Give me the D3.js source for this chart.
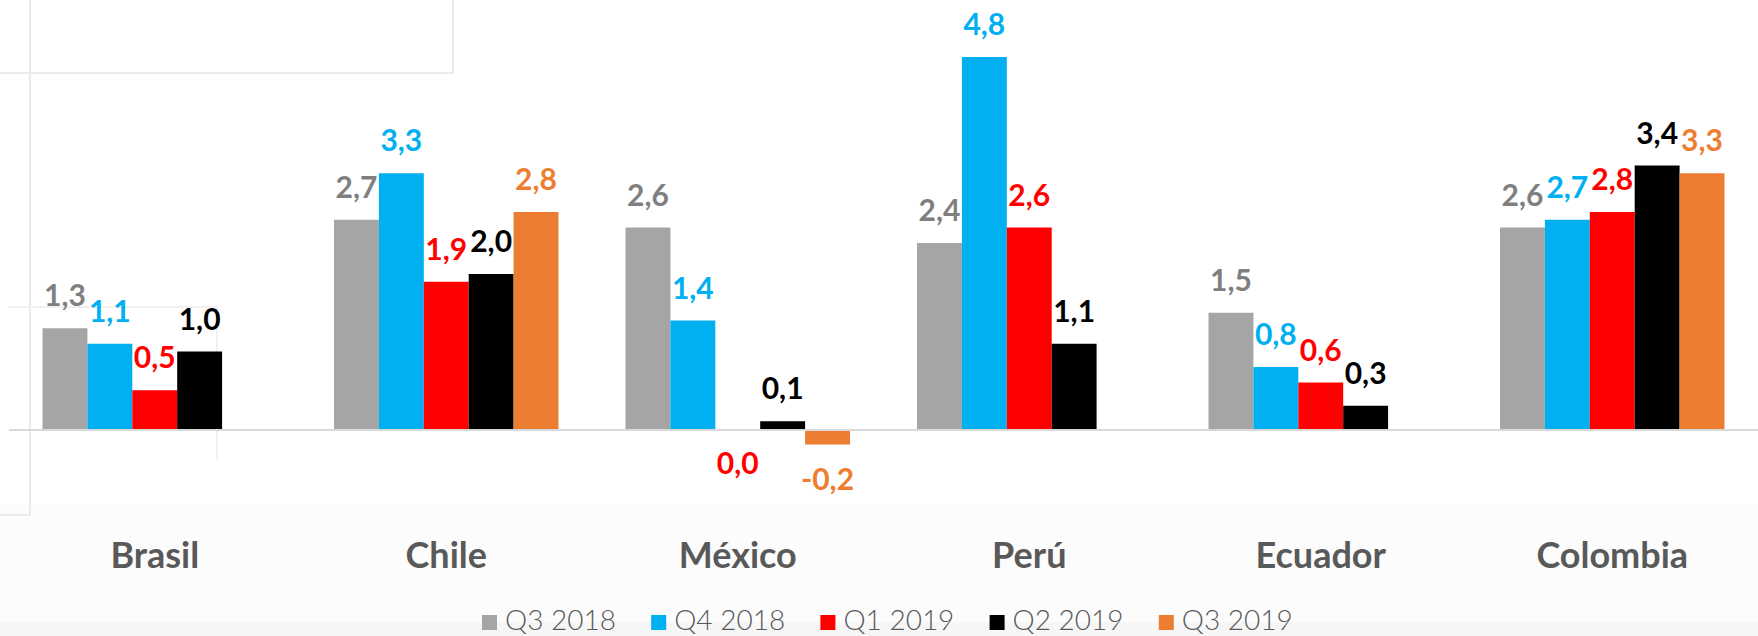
<!DOCTYPE html>
<html>
<head>
<meta charset="utf-8">
<script src="https://cdn.jsdelivr.net/npm/d3@7"></script>
<style>
  body { margin: 0; background: #fff; }
  svg { display: block; }
  .cat { font-family: Lato, "Open Sans", sans-serif; font-weight: bold; font-size: 36px; fill: #595959; }
  .lbl { font-family: Lato, "Open Sans", sans-serif; font-weight: bold; font-size: 30px; }
  .leg { font-family: Lato, "Open Sans", sans-serif; font-weight: 300; font-size: 28px; fill: #595959; }
</style>
</head>
<body>
<svg width="1758" height="636"></svg>
<script>
var countries = ["Brasil", "Chile", "México", "Perú", "Ecuador", "Colombia"];
var seriesNames = ["Q3 2018", "Q4 2018", "Q1 2019", "Q2 2019", "Q3 2019"];

// null = no bar for that quarter
var q3_2018 = [1.3, 2.7, 2.6, 2.4, 1.5, 2.6];
var q4_2018 = [1.1, 3.3, 1.4, 4.8, 0.8, 2.7];
var q1_2019 = [0.5, 1.9, 0.0, 2.6, 0.6, 2.8];
var q2_2019 = [1.0, 2.0, 0.1, 1.1, 0.3, 3.4];
var q3_2019 = [null, 2.8, -0.2, null, null, 3.3];

var barColors = ["#a5a5a5", "#00b0f0", "#ff0000", "#000000", "#ed7d31"];
var labelColors = ["#7f7f7f", "#00b0f0", "#ff0000", "#000000", "#ed7d31"];

var allSeries = [q3_2018, q4_2018, q1_2019, q2_2019, q3_2019];

var svg = d3.select("svg"),
  width = +svg.attr("width"),
  height = +svg.attr("height");

var locale = d3.formatLocale({ decimal: ",", thousands: ".", grouping: [3], currency: ["", ""], minus: "-" });
var fmt = locale.format(".1f");

var x0 = d3.scaleBand().domain(countries).range([9, width]).paddingInner(0.23).paddingOuter(0.115);
var x1 = d3.scaleBand().domain(seriesNames).range([0, x0.bandwidth()]);
var y = d3.scaleLinear().domain([0, 4.8]).range([429, 57]);

// background shading at the bottom
svg.append("rect").attr("x", 0).attr("y", 505).attr("width", width).attr("height", 120).attr("fill", "#fcfcfc");
svg.append("rect").attr("x", 0).attr("y", 622).attr("width", width).attr("height", 14).attr("fill", "#f6f6f6");

// faint frame leftovers
var faint = svg.append("g").attr("stroke", "#ebebeb").attr("stroke-width", 2).attr("fill", "none");
faint.append("path").attr("d", "M0,73H453V0");
faint.append("path").attr("d", "M30,0V515H0");
faint.append("path").attr("d", "M9,307H217V460").attr("stroke", "#f1f1f1");

// flatten to one record per bar
var bars = [];
countries.forEach(function (c, i) {
  seriesNames.forEach(function (s, j) {
    var v = allSeries[j][i];
    if (v !== null) bars.push({ country: c, series: s, idx: j, value: v });
  });
});

var groups = svg.append("g").attr("class", "bars");

groups
  .selectAll("rect")
  .data(bars)
  .enter()
  .append("rect")
  .attr("x", function (d) { return x0(d.country) + x1(d.series); })
  .attr("width", x1.bandwidth())
  .attr("y", function (d) { return Math.min(y(d.value), y(0)); })
  .attr("height", function (d) { return Math.abs(y(d.value) - y(0)); })
  .attr("fill", function (d) { return barColors[d.idx]; });

// zero line
svg.append("line")
  .attr("x1", 9).attr("x2", width)
  .attr("y1", y(0) + 1).attr("y2", y(0) + 1)
  .attr("stroke", "#d9d9d9").attr("stroke-width", 2);

// value labels
svg.append("g")
  .selectAll("text")
  .data(bars)
  .enter()
  .append("text")
  .attr("class", "lbl")
  .attr("text-anchor", "middle")
  .attr("x", function (d) { return x0(d.country) + x1(d.series) + x1.bandwidth() / 2; })
  .attr("y", function (d) {
    return d.value > 0 ? y(d.value) - 22 : y(d.value) + 45;
  })
  .attr("fill", function (d) { return labelColors[d.idx]; })
  .text(function (d) { return fmt(d.value); });

// category labels
svg.append("g")
  .selectAll("text")
  .data(countries)
  .enter()
  .append("text")
  .attr("class", "cat")
  .attr("text-anchor", "middle")
  .attr("x", function (d) { return x0(d) + x0.bandwidth() / 2; })
  .attr("y", 568)
  .text(function (d) { return d; });

// legend
var legend = svg.append("g")
  .selectAll("g")
  .data(seriesNames)
  .enter()
  .append("g")
  .attr("transform", function (d, i) { return "translate(" + (482 + i * 169.2) + ",630)"; });

legend.append("rect")
  .attr("x", 0).attr("y", -15)
  .attr("width", 15).attr("height", 15)
  .attr("fill", function (d, i) { return barColors[i]; });

legend.append("text")
  .attr("class", "leg")
  .attr("x", 23)
  .attr("y", 0)
  .text(function (d) { return d; });
</script>
</body>
</html>
